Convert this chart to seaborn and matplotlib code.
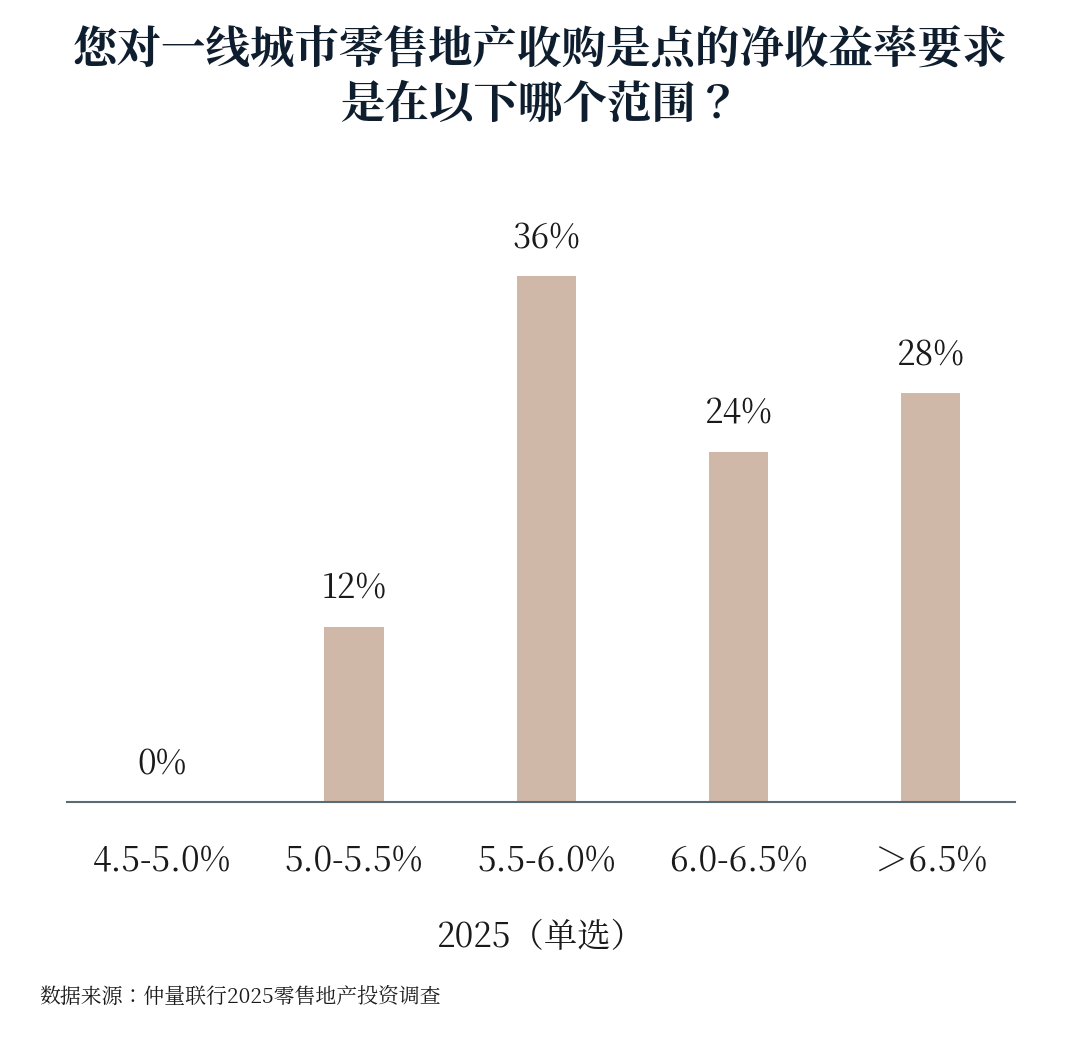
import matplotlib
matplotlib.use("Agg")
import matplotlib.pyplot as plt
from matplotlib import font_manager
import seaborn as sns
import pandas as pd

# pick up whatever CJK font name matplotlib actually registered
cjk = [f.name for f in font_manager.fontManager.ttflist if "CJK" in f.name]
FONT = next((n for n in cjk if "SC" in n), cjk[0] if cjk else "DejaVu Sans")
plt.rcParams["font.family"] = [FONT, "DejaVu Sans"]

categories = ["4.5-5.0%", "5.0-5.5%", "5.5-6.0%", "6.0-6.5%", "＞6.5%"]
shares = [0, 12, 36, 24, 28]
title = "您对一线城市零售地产收购是点的净收益率要求\n是在以下哪个范围？"
xlabel = "2025（单选）"
source = "数据来源：仲量联行2025零售地产投资调查"

df = pd.DataFrame({"range": categories, "share": shares})

fig = plt.figure(figsize=(10.8, 10.49), dpi=100)
ax = fig.add_axes([0.062, 0.2355, 0.878, 0.5567])
sns.barplot(data=df, x="range", y="share", color="#D0B8A8", saturation=1,
            width=0.31, ax=ax)
ax.set_xlim(-0.495, 4.44)
ax.set_ylim(0, 40)
for i, v in enumerate(shares):
    ax.text(i, v + 1.3, f"{v}%", ha="center", va="bottom", fontsize=24, color="#1a1a1a")

for s in ["top", "right", "left"]:
    ax.spines[s].set_visible(False)
ax.spines["bottom"].set_color("#5A6B73")
ax.spines["bottom"].set_linewidth(1.5)
ax.set_yticks([])
ax.set_ylabel("")
ax.tick_params(axis="x", length=0, pad=30, labelsize=24, labelcolor="#1a1a1a")
ax.set_xlabel(xlabel, fontsize=24, labelpad=28, color="#1a1a1a")

fig.text(0.5, 0.975, title, ha="center", va="top", fontsize=32, weight="bold",
         color="#0F1E2E", linespacing=1.15)
fig.text(0.036, 0.05, source, ha="left", va="center", fontsize=15,
         style="italic", color="#1a1a1a")

fig.savefig("out.png", dpi=100)
